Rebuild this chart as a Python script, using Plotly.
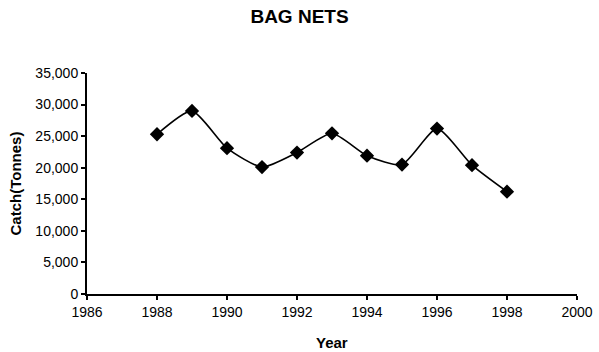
import plotly.graph_objects as go

years = [1988, 1989, 1990, 1991, 1992, 1993, 1994, 1995, 1996, 1997, 1998]
catch = [25300, 29000, 23100, 20100, 22400, 25450, 21900, 20500, 26200, 20400, 16200]

fig = go.Figure()
fig.add_trace(go.Scatter(
    x=years, y=catch, mode="lines+markers",
    line=dict(color="black", width=1.6, shape="spline", smoothing=0.6),
    marker=dict(symbol="diamond", size=11, color="black"),
    showlegend=False,
))

font_family = "Liberation Sans, Arial, sans-serif"
fig.update_layout(
    width=599, height=352,
    margin=dict(l=87, r=22, t=73, b=58, autoexpand=False),
    paper_bgcolor="white", plot_bgcolor="white",
    font=dict(family=font_family, color="black", size=14),
    title=dict(text="<b>BAG NETS</b>", x=0.5, xanchor="center", y=1 - 16 / 352, yanchor="middle",
               font=dict(size=19, family=font_family, color="black")),
    annotations=[
        dict(text="<b>Year</b>", xref="paper", yref="paper", x=0.5, y=0,
             xanchor="center", yanchor="middle", yshift=-48, showarrow=False,
             font=dict(size=15)),
        dict(text="<b>Catch(Tonnes)</b>", xref="paper", yref="paper", x=0, y=0.5,
             xanchor="center", yanchor="middle", xshift=-72, textangle=-90, showarrow=False,
             font=dict(size=15)),
    ],
)
fig.update_xaxes(
    range=[1986, 2000], dtick=2, tick0=1986, automargin=False,
    showline=True, linecolor="black", linewidth=2,
    ticks="outside", ticklen=4, tickcolor="black", tickwidth=1.5,
    showgrid=False, zeroline=False,
    tickfont=dict(size=14),
)
fig.update_yaxes(
    range=[0, 35000], dtick=5000, tickformat=",d", automargin=False,
    showline=True, linecolor="black", linewidth=2,
    ticks="outside", ticklen=4, tickcolor="black", tickwidth=1.5,
    showgrid=False, zeroline=False,
    tickfont=dict(size=14),
)

fig.write_html("out.html")
